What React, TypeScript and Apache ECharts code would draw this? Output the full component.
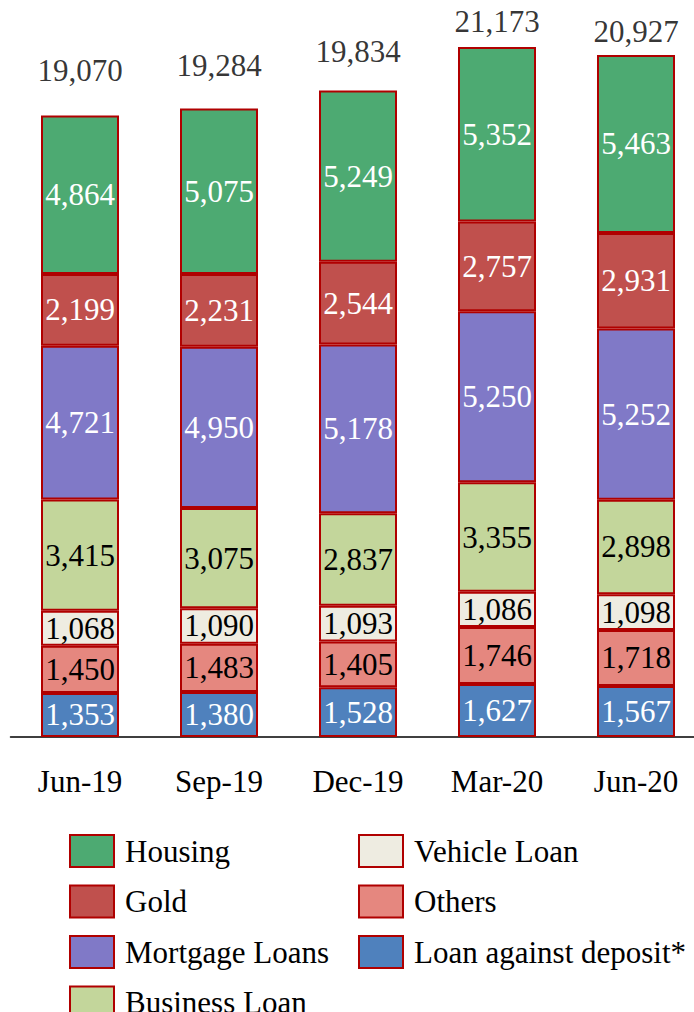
import React, { useEffect, useRef } from "react";
import * as echarts from "echarts";

const categories = ["Jun-19", "Sep-19", "Dec-19", "Mar-20", "Jun-20"];
const loanAgainstDeposit = [1353, 1380, 1528, 1627, 1567];
const others = [1450, 1483, 1405, 1746, 1718];
const vehicleLoan = [1068, 1090, 1093, 1086, 1098];
const businessLoan = [3415, 3075, 2837, 3355, 2898];
const mortgageLoans = [4721, 4950, 5178, 5250, 5252];
const gold = [2199, 2231, 2544, 2757, 2931];
const housing = [4864, 5075, 5249, 5352, 5463];
const totals = [19070, 19284, 19834, 21173, 20927];

const FONT = "'Liberation Serif', 'Times New Roman', serif";
const BORDER = "#B00000";

const seriesDefs = [
  { name: "Loan against deposit*", data: loanAgainstDeposit, color: "#4F81BD", text: "#ffffff" },
  { name: "Others", data: others, color: "#E5877F", text: "#000000" },
  { name: "Vehicle Loan", data: vehicleLoan, color: "#EEECE1", text: "#000000" },
  { name: "Business Loan", data: businessLoan, color: "#C3D69B", text: "#000000" },
  { name: "Mortgage Loans", data: mortgageLoans, color: "#8079C7", text: "#ffffff" },
  { name: "Gold", data: gold, color: "#C0504D", text: "#ffffff" },
  { name: "Housing", data: housing, color: "#4DAA72", text: "#ffffff" },
];

const fmt = (v: number) => v.toLocaleString("en-US");

export default function App() {
  const ref = useRef<HTMLDivElement>(null);
  useEffect(() => {
    document.documentElement.style.overflow = "hidden";
    document.body.style.overflow = "hidden";
    if (!ref.current) return;
    const chart = echarts.init(ref.current, undefined, { renderer: "svg" });
    const totalGaps = [29, 28, 24, 10, 8];
    const legendCommon = {
      orient: "vertical",
      top: 834,
      height: 220,
      padding: 0,
      icon: "rect",
      itemWidth: 44,
      itemHeight: 32,
      itemGap: 16.5,
      textStyle: { color: "#000", fontSize: 31, fontFamily: FONT, padding: [0, 0, 0, 6] },
    };
    const option: any = {
      animation: false,
      grid: { left: 10.5, top: 20, width: 695, height: 717 },
      xAxis: {
        type: "category",
        data: categories,
        axisLine: { show: true, lineStyle: { color: "#000", width: 1.5 } },
        axisTick: { show: false },
        axisLabel: { color: "#000", fontSize: 31, fontFamily: FONT, margin: 29 },
      },
      yAxis: {
        type: "value",
        min: 0,
        max: 22000,
        show: false,
        splitLine: { show: false },
      },
      legend: [
        {
          ...legendCommon,
          left: 69,
          data: ["Housing", "Gold", "Mortgage Loans", "Business Loan"],
        },
        {
          ...legendCommon,
          left: 358,
          data: ["Vehicle Loan", "Others", "Loan against deposit*"],
        },
      ],
      series: [
        ...seriesDefs.map((s) => ({
          name: s.name,
          type: "bar",
          stack: "total",
          barWidth: 78,
          data: s.data,
          itemStyle: { color: s.color, borderColor: BORDER, borderWidth: 2 },
          label: {
            show: true,
            position: "inside",
            color: s.text,
            fontSize: 31,
            fontFamily: FONT,
            formatter: (p: any) => fmt(p.value),
          },
        })),
        {
          name: "Total",
          type: "scatter",
          symbolSize: 0,
          silent: true,
          data: totals.map((v, i) => ({
            value: v,
            label: { distance: totalGaps[i] },
          })),
          label: {
            show: true,
            position: "top",
            color: "#000",
            fontSize: 31,
            fontFamily: FONT,
            formatter: (p: any) => fmt(p.value),
          },
        },
      ],
    };
    chart.setOption(option);
    return () => chart.dispose();
  }, []);
  return (
    <div
      ref={ref}
      style={{ position: "absolute", left: 0, top: 0, width: 720, height: 1012, background: "#fff" }}
    />
  );
}
